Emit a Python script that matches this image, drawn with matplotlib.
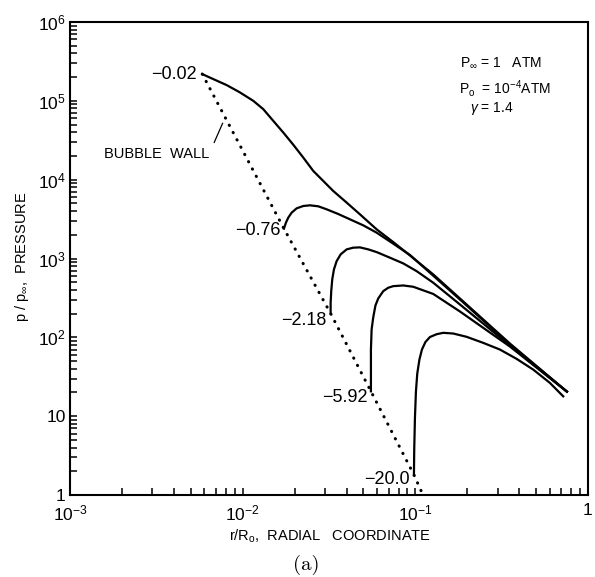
import matplotlib
matplotlib.use("Agg")
import matplotlib.pyplot as plt
from matplotlib.ticker import LogLocator, NullFormatter

plt.rcParams['font.family'] = ['Liberation Sans', 'DejaVu Sans']
plt.rcParams['mathtext.fontset'] = 'custom'
plt.rcParams['mathtext.rm'] = 'Liberation Sans'
plt.rcParams['mathtext.it'] = 'Liberation Sans:italic'

# ---- data (r/R0, p/p_inf) ----
# bubble wall (dotted line)
wall_r = [0.005835, 0.01734, 0.03232, 0.05531, 0.09815, 0.1107]
wall_p = [2.184e5, 2391, 200.6, 20.66, 1.805, 1.0]

# time labels at the start of each profile
time_labels = ["\u22120.02", "\u22120.76", "\u22122.18", "\u22125.92", "\u221220.0"]

r_a = [0.005835, 0.006757, 0.008081, 0.009647, 0.01152, 0.01316, 0.01504, 0.01718,
       0.01963, 0.02243, 0.02564, 0.02929, 0.03346, 0.04002, 0.04777, 0.05969,
       0.07447, 0.0930, 0.1270, 0.1813, 0.3530, 0.7548]
p_a = [2.184e5, 1.887e5, 1.583e5, 1.278e5, 1.0e5, 7.844e4, 5.569e4, 3.967e4,
       2.777e4, 1.909e4, 1.290e4, 9627, 7184, 5117, 3634, 2343,
       1616, 1095, 628, 311, 83.4, 20.5]

r_b = [0.01734, 0.01781, 0.01837, 0.01922, 0.02055, 0.02243, 0.02453, 0.02741,
       0.03065, 0.03578, 0.04182, 0.04993, 0.05969, 0.07447, 0.0930, 0.1813,
       0.3530, 0.7548]
p_b = [2391, 2850, 3299, 3819, 4330, 4633, 4728, 4592,
       4206, 3666, 3140, 2634, 2127, 1542, 1110, 302,
       81, 20.5]

r_c = [0.03232, 0.03232, 0.03258, 0.03302, 0.03378, 0.03502, 0.03694, 0.04002,
       0.04369, 0.04777, 0.05339, 0.05969, 0.07126, 0.08511, 0.1017, 0.1270,
       0.1813, 0.3530, 0.7548]
p_c = [200.6, 274.4, 385.3, 542.5, 727, 927, 1128, 1305,
       1372, 1384, 1305, 1206, 1024, 866.6, 691.7, 492.6,
       261, 78.7, 20.5]

r_d = [0.05531, 0.05531, 0.05531, 0.05582, 0.05703, 0.05875, 0.06098, 0.06517,
       0.06966, 0.07447, 0.08511, 0.09723, 0.1270, 0.1813, 0.3530, 0.7548]
p_d = [20.66, 42.93, 69.98, 125.7, 178.5, 253.6, 311.2, 385.3,
       425.6, 446, 455, 438, 355, 212.7, 76.4, 20.5]

r_e = [0.09815, 0.09854, 0.09948, 0.1008, 0.1026, 0.1056, 0.1092, 0.1144,
       0.1215, 0.1328, 0.1451, 0.1658, 0.1982, 0.2472, 0.3090, 0.3861,
       0.4817, 0.6017, 0.7185]
p_e = [1.805, 3.752, 9.57, 20.48, 34.67, 52.23, 69.98, 87.2,
       100.9, 109.5, 114.1, 111.8, 101.5, 85.1, 69.98, 53.3,
       38.98, 26.42, 17.85]

profiles = [(r_a, p_a), (r_b, p_b), (r_c, p_c), (r_d, p_d), (r_e, p_e)]

# label offsets (pixels) from the start point of each profile
label_offsets = [(-6, 0), (-3, -2), (-4, -7.5), (-3, -6.5), (-4, -5)]

# ---- figure ----
fig = plt.figure(figsize=(5.95, 5.77), dpi=100)
ax = fig.add_axes([70 / 595, 1 - 495 / 577, 518 / 595, 473 / 577])

ax.plot(wall_r, wall_p, color="black", lw=2.2, linestyle=(0, (0.1, 2.6)),
        dash_capstyle="round", solid_capstyle="round")

for r, p in profiles:
    ax.plot(r, p, color="black", lw=1.6, solid_joinstyle="round")

for (r, p), txt, off in zip(profiles, time_labels, label_offsets):
    ax.annotate(txt, xy=(r[0], p[0]), xytext=off, textcoords="offset pixels",
                ha="right", va="center", fontsize=13)

ax.annotate("BUBBLE  WALL", xy=(0.00766, 5.21e4), xytext=(-13, -31),
            textcoords="offset pixels", ha="right", va="center", fontsize=10.5,
            arrowprops=dict(arrowstyle="-", color="black", lw=0.9,
                            relpos=(1.0, 0.6), shrinkA=3, shrinkB=0))

ax.text(0.753, 0.913, r"P$_{\infty}$ = 1   ATM", transform=ax.transAxes,
        ha="left", va="center", fontsize=10)
ax.text(0.751, 0.860, r"P$_{\mathrm{o}}$  = 10$^{-4}$ATM", transform=ax.transAxes,
        ha="left", va="center", fontsize=10)
ax.text(0.772, 0.818, r"$\gamma$ = 1.4", transform=ax.transAxes,
        ha="left", va="center", fontsize=10)

ax.set_xscale("log")
ax.set_yscale("log")
ax.set_xlim(1e-3, 1)
ax.set_ylim(1, 1e6)

ax.set_xticks([1e-3, 1e-2, 1e-1, 1],
              labels=[r"$10^{-3}$", r"$10^{-2}$", r"$10^{-1}$", "1"])
ax.set_yticks([1, 10, 1e2, 1e3, 1e4, 1e5, 1e6],
              labels=["1", "10", r"$10^{2}$", r"$10^{3}$", r"$10^{4}$",
                      r"$10^{5}$", r"$10^{6}$"])
for axis in (ax.xaxis, ax.yaxis):
    axis.set_minor_locator(LogLocator(base=10, subs=range(2, 10), numticks=20))
    axis.set_minor_formatter(NullFormatter())

ax.tick_params(which="both", direction="in", length=5, width=1.1,
               top=False, right=False)
ax.tick_params(axis="x", which="major", pad=6, labelsize=12.5)
ax.tick_params(axis="y", which="major", pad=3, labelsize=12.5)

for s in ax.spines.values():
    s.set_linewidth(1.5)

fig.text(22 / 595, 1 - 257 / 577, r"p / p$_{\infty}$,  PRESSURE", rotation=90,
         ha="center", va="center", fontsize=10.5)
fig.text(330 / 595, 1 - 536 / 577, r"r/R$_{\mathrm{o}}$,  RADIAL   COORDINATE",
         ha="center", va="center", fontsize=10.5)
fig.text(306 / 595, 1 - 565 / 577, "(a)", family=["cmr10", "DejaVu Serif"],
         ha="center", va="center", fontsize=15)

fig.savefig("out.png", dpi=100)
